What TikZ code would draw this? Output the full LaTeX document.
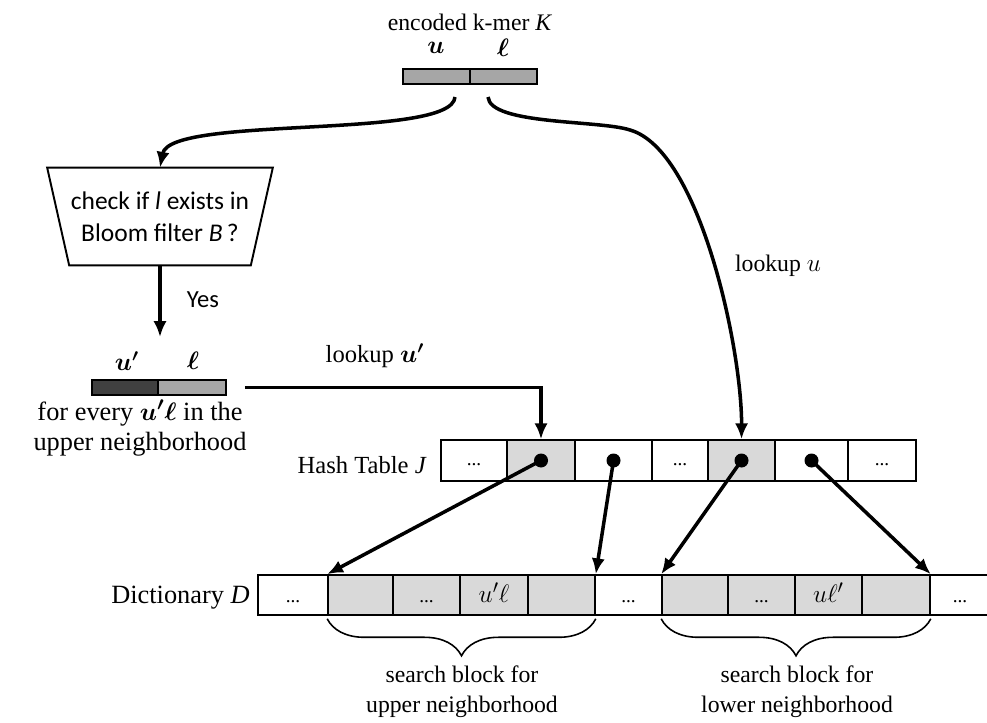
\documentclass[tikz,border=0pt]{standalone}
\usepackage{amsmath}
\usepackage{fontspec}
\setmainfont{Liberation Serif}
\newfontfamily\calibri{Carlito}
\usetikzlibrary{arrows.meta,decorations.pathreplacing}
\definecolor{cellgray}{HTML}{D9D9D9}
\definecolor{bargray}{HTML}{A6A6A6}
\definecolor{bardark}{HTML}{404040}
\newcommand{\skipd}{...}
\begin{document}
\begin{tikzpicture}[x=0.02cm, y=-0.02cm,
  link/.style={->, line width=2pt, >={Latex[length=9pt,width=7.5pt]}},
  hcell/.style={draw=black, line width=0.9pt, minimum height=0.82cm, inner sep=0pt, text height=1.4ex, text depth=0.2ex, font=\fontsize{11}{13}\selectfont},
  dcell/.style={draw=black, line width=0.9pt, minimum height=0.8cm, inner sep=0pt, text height=1.8ex, text depth=0ex, font=\fontsize{11}{13}\selectfont},
  dot/.style={circle, fill=black, inner sep=0pt, minimum size=0.28cm},
  bar/.style={draw=black, line width=1pt, minimum height=0.3cm, inner sep=0pt},
  txt/.style={inner sep=0pt, font=\fontsize{13}{15}\selectfont},
  brc/.style={decorate, decoration={brace, mirror, amplitude=0.74cm}, line width=0.9pt}]
\useasboundingbox (0,0) rectangle (987,723);

% encoded k-mer
\node[txt, font=\fontsize{13.5}{16}\selectfont] (kmer) at (470,22) {encoded k-mer \textit{K}};
\node[txt, font=\Large] (ku) at (436,48) {$\boldsymbol{u}$};
\node[txt, font=\Large] (kl) at (503,48) {$\boldsymbol{\ell}$};
\node[bar, fill=bargray, minimum width=1.34cm] (bku) at (436.5,76.5) {};
\node[bar, fill=bargray, minimum width=1.34cm] (bkl) at (503.5,76.5) {};
\coordinate (kl1) at (455,97);
\coordinate (kr1) at (488,97);

% bloom filter check
\node[minimum width=4.5cm, minimum height=1.94cm, inner sep=0pt, align=center,
  font=\calibri\fontsize{14.5}{18}\selectfont] (chk) at (160,216.5) {check if \textit{l} exists in\\Bloom filter \textit{B}\,?};
\draw[line width=1.1pt] (chk.north west) -- (chk.north east) -- ([xshift=-0.44cm]chk.south east)
  -- ([xshift=0.44cm]chk.south west) -- cycle;
\draw[link] (kl1) .. controls (452,140) and (170,115) .. (chk.north);
\coordinate (yend) at (160,337);
\draw[link] (chk.south) -- (yend);
\node[txt, font=\calibri\fontsize{14}{16}\selectfont] (yes) at (203,300) {Yes};

% neighbour u'l
\node[txt, font=\Large] (nu) at (127,361) {$\boldsymbol{u'}$};
\node[txt, font=\Large] (nl) at (193,361) {$\boldsymbol{\ell}$};
\node[bar, fill=bardark, minimum width=1.32cm] (bu) at (125,387.5) {};
\node[bar, fill=bargray, minimum width=1.36cm] (bl) at (192,387.5) {};
\node[txt, align=center, font=\fontsize{15}{17}\selectfont] (every) at (140,428) {for every $\boldsymbol{u'\ell}$ in the\\upper neighborhood};

% hash table
\foreach \a/\b/\n/\t/\c in {441/507/1/\skipd/white, 507/575/2/{}/cellgray, 575/652/3/{}/white,
  652/708/4/\skipd/white, 708/775/5/{}/cellgray, 775/848/6/{}/white, 848/916/7/\skipd/white}
  \node[hcell, fill=\c, minimum width={(\b-\a)*0.02cm}] (h\n) at ({(\a+\b)/2},460.5) {\t};
\foreach \n in {2,3,5,6}
  \node[dot] (d\n) at (h\n) {};
\node[txt, anchor=east, font=\fontsize{14}{16}\selectfont] (htab) at (427,465) {Hash Table \textit{J}};

% lookups
\draw[link] ([xshift=0.36cm]bl.east) -| (h2.north);
\node[txt, font=\fontsize{14}{16}\selectfont] (lkp1) at (375,356) {lookup $\boldsymbol{u'}$};
\draw[link] (kr1) .. controls (490,125) and (600,120) .. (630,130)
  .. controls (700,150) and (742,350) .. (h5.north);
\node[txt, font=\fontsize{13.5}{16}\selectfont] (lkp2) at (778,266) {lookup $u$};

% dictionary
\foreach \a/\b/\n/\t/\c in {258/328/1/\skipd/white, 328/393/2/{}/cellgray, 393/460/3/\skipd/cellgray,
  460/528/4/{\fontsize{15}{17}\selectfont$u'\ell$}/cellgray, 528/595/5/{}/cellgray, 595/662/6/\skipd/white,
  662/728/7/{}/cellgray, 728/795/8/\skipd/cellgray, 795/862/9/{\fontsize{15}{17}\selectfont$u\ell'$}/cellgray,
  862/930/10/{}/cellgray, 930/990/11/\skipd/white}
  \node[dcell, fill=\c, minimum width={(\b-\a)*0.02cm}] (g\n) at ({(\a+\b)/2},595) {\t};
\node[txt, anchor=east, font=\fontsize{15}{17}\selectfont] (dict) at (250,598) {Dictionary \textit{D}};

\draw[link] (d2.center) -- (g2.north west);
\draw[link] (d3.center) -- (g5.north east);
\draw[link] (d5.center) -- (g7.north west);
\draw[link] (d6.center) -- (g10.north east);

% search blocks
\draw[brc] ([yshift=-0.06cm]g2.south west) -- ([yshift=-0.06cm]g5.south east);
\draw[brc] ([yshift=-0.06cm]g7.south west) -- ([yshift=-0.06cm]g10.south east);
\node[txt, align=center, font=\fontsize{13.5}{17}\selectfont] (sb1) at (462,692) {search block for\\upper neighborhood};
\node[txt, align=center, font=\fontsize{13.5}{17}\selectfont] (sb2) at (797,692) {search block for\\lower neighborhood};
\end{tikzpicture}
\end{document}
